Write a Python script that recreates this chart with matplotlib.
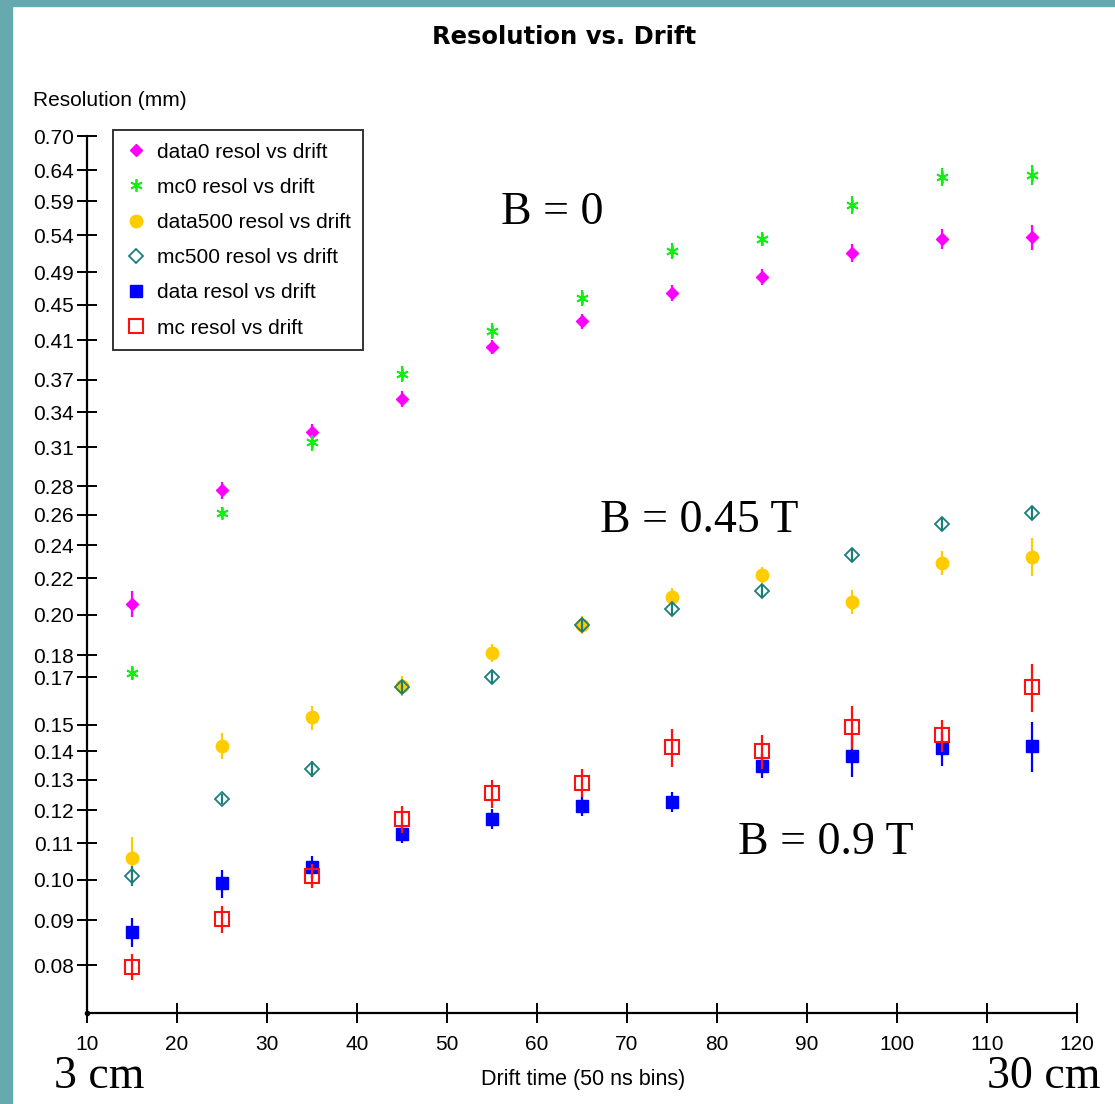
import matplotlib
matplotlib.use('Agg')
import matplotlib.pyplot as plt
from matplotlib.ticker import FixedLocator, NullLocator

# Drift time bins
drift = [15, 25, 35, 45, 55, 65, 75, 85, 95, 105, 115]

# B = 0
data0 = [0.206, 0.277, 0.323, 0.352, 0.403, 0.431, 0.464, 0.484, 0.515, 0.535, 0.537]
data0_err = [0.0070, 0.0065, 0.0068, 0.0074, 0.0074, 0.0090, 0.0097, 0.0101, 0.0121, 0.0140, 0.0169]
mc0 = [0.172, 0.261, 0.314, 0.376, 0.420, 0.458, 0.518, 0.535, 0.584, 0.629, 0.632]
mc0_err = [0.0032, 0.0041, 0.0066, 0.0079, 0.0088, 0.0096, 0.0108, 0.0098, 0.0138, 0.0148, 0.0165]

# B = 0.45 T
data500 = [0.106, 0.142, 0.153, 0.166, 0.181, 0.195, 0.2095, 0.222, 0.207, 0.229, 0.233]
data500_err = [0.0058, 0.0048, 0.0048, 0.0043, 0.0043, 0.0046, 0.0049, 0.0046, 0.0065, 0.0072, 0.0116]
mc500 = [0.101, 0.1235, 0.1336, 0.1656, 0.170, 0.195, 0.203, 0.213, 0.234, 0.254, 0.261]
mc500_err = [0.0026, 0.0016, 0.0028, 0.0030, 0.0027, 0.0031, 0.0032, 0.0033, 0.0043, 0.0040, 0.0041]

# B = 0.9 T
data900 = [0.0872, 0.0991, 0.1034, 0.1127, 0.1172, 0.1213, 0.1225, 0.1347, 0.1382, 0.1411, 0.1419]
data900_err = [0.0034, 0.0036, 0.0030, 0.0027, 0.0031, 0.0032, 0.0032, 0.0042, 0.0072, 0.0063, 0.0093]
mc900 = [0.0796, 0.0902, 0.101, 0.1172, 0.1254, 0.1288, 0.1415, 0.1400, 0.1492, 0.146, 0.1656]
mc900_err = [0.0027, 0.0031, 0.0032, 0.0040, 0.0046, 0.0047, 0.0070, 0.0062, 0.0082, 0.0061, 0.0104]

y_ticks = [0.70, 0.64, 0.59, 0.54, 0.49, 0.45, 0.41, 0.37, 0.34, 0.31, 0.28, 0.26, 0.24,
           0.22, 0.20, 0.18, 0.17, 0.15, 0.14, 0.13, 0.12, 0.11, 0.10, 0.09, 0.08]
x_ticks = [10, 20, 30, 40, 50, 60, 70, 80, 90, 100, 110, 120]

plt.rcParams['font.family'] = ['Liberation Sans', 'DejaVu Sans']

W, H = 1115, 1104
fig = plt.figure(figsize=(W / 100, H / 100), dpi=100)
fig.patch.set_facecolor('white')

# teal frame on left and top
fig.patches.append(plt.Rectangle((0, 0), 12 / W, 1, transform=fig.transFigure,
                                 color='#66a9ae', zorder=0))
fig.patches.append(plt.Rectangle((0, 1 - 6 / H), 1, 6 / H, transform=fig.transFigure,
                                 color='#66a9ae', zorder=0))

ax = fig.add_axes([87 / W, 91 / H, 990 / W, 877 / H])
ax.set_yscale('log')
ax.set_xlim(10, 120)
ax.set_ylim(0.0706, 0.70)

series = [
    (data0, data0_err, 'data0 resol vs drift', dict(marker='D', ms=6, color='#ff00ff', mfc='#ff00ff', mec='#ff00ff')),
    (mc0, mc0_err, 'mc0 resol vs drift', dict(marker=(6, 2, 0), ms=9, color='#11ee11', mfc='#11ee11', mec='#11ee11', mew=1.3)),
    (data500, data500_err, 'data500 resol vs drift', dict(marker='o', ms=9, color='#ffcc00', mfc='#ffcc00', mec='#ffcc00')),
    (mc500, mc500_err, 'mc500 resol vs drift', dict(marker='D', ms=7, color='#1a7f7a', mfc='none', mec='#1a7f7a', mew=1.3)),
    (data900, data900_err, 'data resol vs drift', dict(marker='s', ms=9, color='#0000ff', mfc='#0000ff', mec='#0000ff')),
    (mc900, mc900_err, 'mc resol vs drift', dict(marker='s', ms=10, color='#ff1111', mfc='none', mec='#ff1111', mew=1.5)),
]

for vals, errs, lab, st in series:
    c = st.pop('color')
    ax.errorbar(drift, vals, yerr=errs, fmt='none', ecolor=c, elinewidth=1.6, capsize=0)
    ax.plot(drift, vals, linestyle='none', label=lab, **st)

for s in ['top', 'right']:
    ax.spines[s].set_visible(False)
for s in ['left', 'bottom']:
    ax.spines[s].set_linewidth(1.6)

ax.yaxis.set_major_locator(FixedLocator(y_ticks))
ax.yaxis.set_minor_locator(NullLocator())
ax.set_yticklabels(['%.2f' % v for v in y_ticks])
ax.set_xticks(x_ticks)
ax.tick_params(axis='both', direction='inout', length=15, width=1.4, labelsize=15, colors='black')
ax.tick_params(axis='y', pad=2)
ax.tick_params(axis='x', pad=8)
ax.plot([10], [0.0706], 'k.', ms=6, clip_on=False)

leg = ax.legend(loc='upper left', bbox_to_anchor=(113 / W, 1 - 130 / H),
                bbox_transform=fig.transFigure, fontsize=15, frameon=True, fancybox=False,
                borderpad=0.6, labelspacing=0.78, handlelength=1.0, handletextpad=0.5,
                borderaxespad=0)
leg.get_frame().set_edgecolor('black')
leg.get_frame().set_linewidth(1.4)

fig.text(564 / W, 1 - 37 / H, 'Resolution vs. Drift', ha='center', va='center',
         fontsize=17.5, fontweight='bold', family='DejaVu Sans')
fig.text(33 / W, 1 - 100 / H, 'Resolution (mm)', ha='left', va='center', fontsize=15)
fig.text(583 / W, 1 - 1080 / H, 'Drift time (50 ns bins)', ha='center', va='center', fontsize=15.5)

serif = dict(family='Liberation Serif', fontsize=33, ha='center', va='center')
fig.text(552 / W, 1 - 213 / H, 'B = 0', **serif)
fig.text(699 / W, 1 - 521 / H, 'B = 0.45 T', **serif)
fig.text(826 / W, 1 - 843 / H, 'B = 0.9 T', **serif)
fig.text(99 / W, 1 - 1077 / H, '3 cm', **serif)
fig.text(1044 / W, 1 - 1077 / H, '30 cm', **serif)

fig.savefig('out.png', dpi=100)
